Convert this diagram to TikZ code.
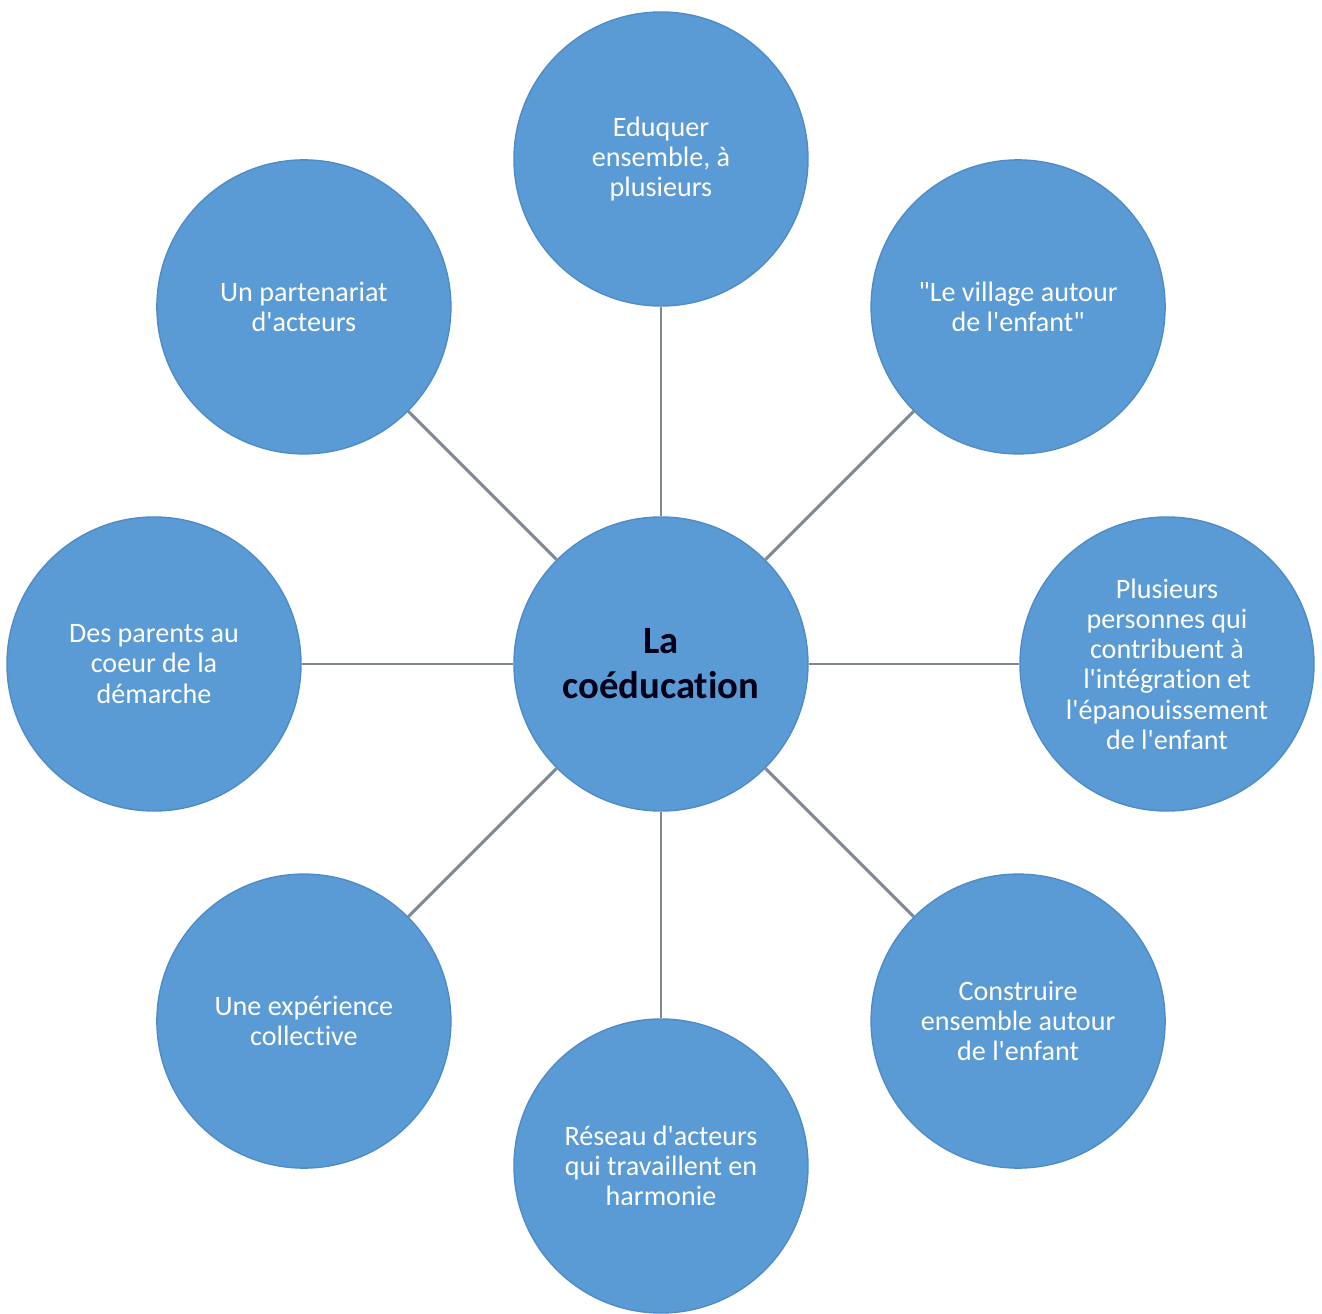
\documentclass[tikz,border=0pt]{standalone}
\usepackage{fontspec}
\setmainfont{Carlito}
\newfontfamily\policebulle{Carlito}[Ligatures=NoCommon]
\usepackage{tikz}
\usetikzlibrary{backgrounds,calc}
\definecolor{bulle}{HTML}{5B9BD5}
\definecolor{bord}{HTML}{4E8CC8}
\definecolor{trait}{HTML}{7F8894}
\tikzset{
  bulle/.style={circle,fill=bulle,draw=bord,line width=0.4pt,minimum size=2.94cm,inner sep=0pt,
    align=center,text=white,font=\policebulle\fontsize{8pt}{8.6pt}\selectfont},
  centre/.style={bulle,text=black!90!blue,font=\policebulle\fontsize{11pt}{12.8pt}\selectfont\bfseries},
  lien/.style={draw=trait,line width=0.85pt}
}
\begin{document}
\begin{tikzpicture}
\useasboundingbox (-6.61,-6.49) rectangle (6.61,6.64);
\node[centre] (coeur) at (0,0) {La\\co\'education};
\node[bulle] (haut) at (90:5.05) {Eduquer\\ensemble, \`a\\plusieurs};
\node[bulle] (hd) at (45:5.05) {"Le village autour\\de l'enfant"};
\node[bulle] (droite) at (0:5.06) {Plusieurs\\personnes qui\\contribuent \`a\\l'int\'egration et\\l'\'epanouissement\\de l'enfant};
\node[bulle] (bd) at (-45:5.05) {Construire\\ensemble autour\\de l'enfant};
\node[bulle] (bas) at (-90:5.02) {R\'eseau d'acteurs\\qui travaillent en\\harmonie};
\node[bulle] (bg) at (-135:5.05) {Une exp\'erience\\collective};
\node[bulle] (gauche) at (180:5.07) {Des parents au\\coeur de la\\d\'emarche};
\node[bulle] (hg) at (135:5.05) {Un partenariat\\d'acteurs};
\foreach \n in {haut,hd,droite,bd,bas,bg,gauche,hg}
  \draw[lien] (coeur) -- (\n);
\end{tikzpicture}
\end{document}
